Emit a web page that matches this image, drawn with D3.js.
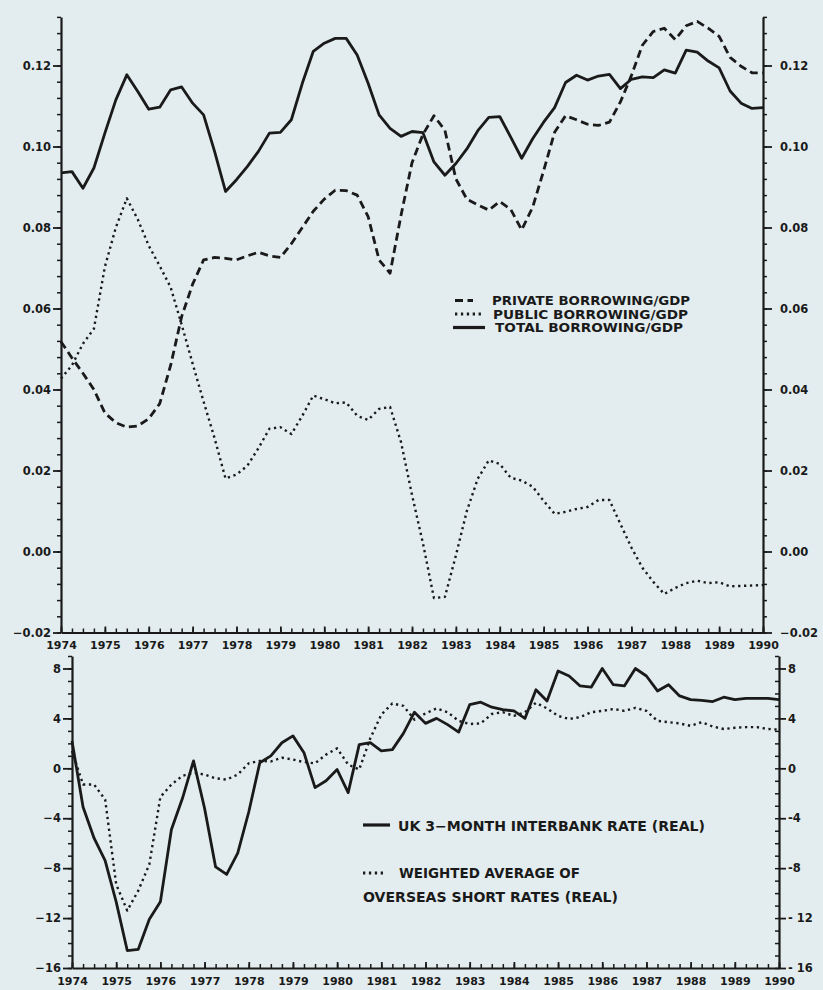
<!DOCTYPE html>
<html>
<head>
<meta charset="utf-8">
<script src="https://cdn.jsdelivr.net/npm/d3@7/dist/d3.min.js"></script>
<style>
  body { margin: 0; background: #e3edef; }
  svg { display: block; }
</style>
</head>
<body>
<svg id="chart"></svg>
<script>
// quarterly observations, 1974Q1 .. 1990Q1
const quarters = d3.range(65).map((i) => 1974 + i / 4);
const yearTicks = d3.range(1974, 1991);

// top panel: borrowing / GDP
const privateBorrowing = [
  0.0518, 0.0478, 0.0440, 0.0400, 0.0342, 0.0318, 0.0307, 0.0310, 0.0328, 0.0365,
  0.0460, 0.0580, 0.0660, 0.0720, 0.0726, 0.0724, 0.0720, 0.0730, 0.0739, 0.0730,
  0.0726, 0.0760, 0.0800, 0.0840, 0.0870, 0.0892, 0.0891, 0.0880, 0.0827, 0.0720,
  0.0687, 0.0830, 0.0960, 0.1030, 0.1076, 0.1040, 0.0920, 0.0870, 0.0856, 0.0843,
  0.0864, 0.0845, 0.0794, 0.0850, 0.0940, 0.1035, 0.1076, 0.1066, 0.1055, 0.1052,
  0.1060, 0.1110, 0.1175, 0.1250, 0.1284, 0.1292, 0.1264, 0.1298, 0.1309, 0.1292,
  0.1272, 0.1220, 0.1198, 0.1182, 0.1182,
];
const publicBorrowing = [
  0.0427, 0.0460, 0.0513, 0.0550, 0.0703, 0.0800, 0.0872, 0.0820, 0.0755, 0.0705,
  0.0652, 0.0560, 0.0464, 0.0370, 0.0280, 0.0180, 0.0190, 0.0212, 0.0255, 0.0303,
  0.0307, 0.0290, 0.0335, 0.0385, 0.0376, 0.0366, 0.0368, 0.0335, 0.0325, 0.0352,
  0.0357, 0.0270, 0.0140, 0.0020, -0.0115, -0.0112, -0.0010, 0.0100, 0.0180, 0.0225,
  0.0216, 0.0182, 0.0175, 0.0160, 0.0125, 0.0093, 0.0098, 0.0105, 0.0110, 0.0127,
  0.0127, 0.0068, 0.0010, -0.0040, -0.0075, -0.0105, -0.0090, -0.0078, -0.0072, -0.0078,
  -0.0076, -0.0086, -0.0085, -0.0084, -0.0083,
];
const totalBorrowing = [
  0.0935, 0.0938, 0.0897, 0.0947, 0.1033, 0.1115, 0.1177, 0.1136, 0.1092, 0.1097,
  0.1140, 0.1147, 0.1107, 0.1078, 0.0988, 0.0889, 0.0918, 0.0951, 0.0988, 0.1033,
  0.1035, 0.1066, 0.1156, 0.1235, 0.1255, 0.1267, 0.1267, 0.1226, 0.1156, 0.1078,
  0.1045, 0.1025, 0.1037, 0.1034, 0.0962, 0.0929, 0.0958, 0.0994, 0.1039, 0.1072,
  0.1074, 0.1023, 0.0971, 0.1019, 0.1060, 0.1096, 0.1158, 0.1176, 0.1164, 0.1174,
  0.1178, 0.1143, 0.1166, 0.1172, 0.1170, 0.1189, 0.1181, 0.1238, 0.1233, 0.1211,
  0.1194, 0.1137, 0.1107, 0.1094, 0.1096,
];
const topTicks = [-0.02, 0.0, 0.02, 0.04, 0.06, 0.08, 0.1, 0.12];

// bottom panel: real short rates, %
const ukRate = [
  2.2, -3.1, -5.6, -7.4, -10.7, -14.6, -14.5, -12.1, -10.7, -4.9,
  -2.4, 0.6, -3.2, -7.9, -8.5, -6.8, -3.5, 0.45, 1.0, 2.05,
  2.6, 1.25, -1.55, -1.0, -0.1, -1.95, 1.9, 2.05, 1.4, 1.5,
  2.8, 4.5, 3.6, 4.0, 3.5, 2.9, 5.1, 5.3, 4.9, 4.7,
  4.6, 4.0, 6.3, 5.4, 7.8, 7.4, 6.6, 6.5, 8.0, 6.7,
  6.6, 8.0, 7.4, 6.2, 6.7, 5.8, 5.5, 5.45, 5.35, 5.7,
  5.5, 5.6, 5.6, 5.6, 5.5,
];
const overseasRate = [
  1.4, -1.3, -1.3, -2.5, -9.3, -11.4, -9.8, -7.7, -2.3, -1.3,
  -0.6, -0.35, -0.5, -0.8, -0.9, -0.5, 0.4, 0.6, 0.55, 0.85,
  0.7, 0.5, 0.4, 1.1, 1.6, 0.3, -0.1, 2.4, 4.3, 5.2,
  5.0, 3.9, 4.4, 4.8, 4.5, 3.8, 3.55, 3.6, 4.35, 4.5,
  4.2, 4.5, 5.25, 4.8, 4.2, 3.95, 4.1, 4.5, 4.6, 4.75,
  4.6, 4.85, 4.6, 3.8, 3.7, 3.6, 3.4, 3.7, 3.35, 3.15,
  3.25, 3.3, 3.3, 3.15, 3.1,
];
const bottomTicks = [-16, -12, -8, -4, 0, 4, 8];

const W = 823, H = 990;
const ink = "#1a1a1a", paper = "#e3edef";
const FONT = "DejaVu Sans";

const svg = d3.select("#chart").attr("width", W).attr("height", H);
svg.append("rect").attr("width", W).attr("height", H).attr("fill", paper);

const styles = {
  solid: { width: 2.8, dash: null },
  dashed: { width: 2.8, dash: "8,4.5" },
  dotted: { width: 2.4, dash: "2.3,3.6" },
};

//style a d3 axis group like the plotter output
const styleAxis = (g, size) => {
  g.attr("font-family", FONT);
  g.select(".domain").attr("stroke", ink).attr("stroke-width", 2.2);
  g.selectAll(".tick line").attr("stroke", ink).attr("stroke-width", 1.8);
  g.selectAll(".tick text")
    .attr("fill", ink)
    .attr("font-size", size)
    .attr("font-weight", "bold");
};
const minorAxis = (g) => {
  g.select(".domain").remove();
  g.selectAll(".tick line").attr("stroke", ink).attr("stroke-width", 1.5);
};

const drawLine = (values, x, y, style) =>
  svg
    .append("path")
    .datum(values)
    .attr("fill", "none")
    .attr("stroke", ink)
    .attr("stroke-width", styles[style].width)
    .attr("stroke-dasharray", styles[style].dash)
    .attr("stroke-linejoin", "round")
    .attr("d", d3.line().x((d, i) => x(quarters[i])).y((d) => y(d)));

const legendText = (label, tx, ty, len, size) =>
  svg
    .append("text")
    .attr("x", tx).attr("y", ty)
    .attr("textLength", len)
    .attr("lengthAdjust", "spacingAndGlyphs")
    .attr("font-family", FONT)
    .attr("font-weight", "bold")
    .attr("font-size", size)
    .attr("fill", ink)
    .text(label);
const legendRow = (x1, x2, y, style, label, tx, ty, len, size) => {
  svg
    .append("line")
    .attr("x1", x1).attr("x2", x2).attr("y1", y).attr("y2", y)
    .attr("stroke", ink)
    .attr("stroke-width", styles[style].width + 0.4)
    .attr("stroke-dasharray", styles[style].dash);
  legendText(label, tx, ty, len, size);
};

// ---------------- TOP PANEL ----------------
const xTop = d3.scaleLinear().domain([1974, 1990]).range([61, 763]);
const yTop = d3.scaleLinear().domain([-0.02, 0.132]).range([632.5, 16.9]);
const topMinor = d3.range(-0.02, 0.1321, 0.004);

svg.append("g")
  .attr("transform", "translate(61,0)")
  .call(d3.axisLeft(yTop).tickValues(topMinor).tickFormat("").tickSize(4))
  .call(minorAxis);
svg.append("g")
  .attr("transform", "translate(763,0)")
  .call(d3.axisRight(yTop).tickValues(topMinor).tickFormat("").tickSize(4))
  .call(minorAxis);
svg.append("g")
  .attr("transform", "translate(61,0)")
  .call(d3.axisLeft(yTop).tickValues(topTicks).tickFormat(d3.format(".2f"))
    .tickSizeInner(8).tickSizeOuter(0).tickPadding(2))
  .call((g) => styleAxis(g, 11.5));
svg.append("g")
  .attr("transform", "translate(763,0)")
  .call(d3.axisRight(yTop).tickValues(topTicks).tickFormat(d3.format(".2f"))
    .tickSizeInner(9).tickSizeOuter(0).tickPadding(8))
  .call((g) => styleAxis(g, 11.5));

svg.append("g")
  .attr("transform", "translate(0," + yTop(-0.02) + ")")
  .call(d3.axisBottom(xTop).tickValues(quarters).tickFormat("").tickSize(-4))
  .call(minorAxis);
svg.append("g")
  .attr("transform", "translate(0," + yTop(-0.02) + ")")
  .call(d3.axisBottom(xTop).tickValues(yearTicks).tickFormat(d3.format("d"))
    .tickSizeInner(-6).tickSizeOuter(0).tickPadding(9))
  .call((g) => styleAxis(g, 11));

drawLine(publicBorrowing, xTop, yTop, "dotted");
drawLine(privateBorrowing, xTop, yTop, "dashed");
drawLine(totalBorrowing, xTop, yTop, "solid");

legendRow(455, 473, 300.5, "dashed", "PRIVATE BORROWING/GDP", 492, 305, 198, 13);
legendRow(455, 484, 314, "dotted", "PUBLIC BORROWING/GDP", 493, 318.5, 195, 13);
legendRow(453, 485, 327.5, "solid", "TOTAL BORROWING/GDP", 495, 332, 188, 13);

// ---------------- BOTTOM PANEL ----------------
const xBot = d3.scaleLinear().domain([1974, 1990]).range([72, 779]);
const yBot = d3.scaleLinear().domain([-16, 9]).range([968, 656]);
const botMinor = d3.range(-16, 9.01, 1);
const rightFmt = (d) => (d < 0 ? (d <= -10 ? "- " : "-") + -d : "" + d);
const leftFmt = (d) => (d < 0 ? "\u2212" + -d : "" + d);

svg.append("g")
  .attr("transform", "translate(72,0)")
  .call(d3.axisLeft(yBot).tickValues(botMinor).tickFormat("").tickSize(4))
  .call(minorAxis);
svg.append("g")
  .attr("transform", "translate(779,0)")
  .call(d3.axisLeft(yBot).tickValues(botMinor).tickFormat("").tickSize(4))
  .call(minorAxis);
svg.append("g")
  .attr("transform", "translate(72,0)")
  .call(d3.axisLeft(yBot).tickValues(bottomTicks).tickFormat(leftFmt)
    .tickSizeInner(9).tickSizeOuter(0).tickPadding(2))
  .call((g) => styleAxis(g, 11.5));
svg.append("g")
  .attr("transform", "translate(779,0)")
  .call(d3.axisRight(yBot).tickValues(bottomTicks).tickFormat(rightFmt)
    .tickSizeInner(7).tickSizeOuter(0).tickPadding(2))
  .call((g) => styleAxis(g, 11.5));

svg.append("g")
  .attr("transform", "translate(0," + yBot(-16) + ")")
  .call(d3.axisBottom(xBot).tickValues(quarters).tickFormat("").tickSize(-4))
  .call(minorAxis);
svg.append("g")
  .attr("transform", "translate(0," + yBot(-16) + ")")
  .call(d3.axisBottom(xBot).tickValues(yearTicks).tickFormat(d3.format("d"))
    .tickSizeInner(-6).tickSizeOuter(0).tickPadding(9))
  .call((g) => styleAxis(g, 11));

drawLine(overseasRate, xBot, yBot, "dotted");
drawLine(ukRate, xBot, yBot, "solid");

legendRow(363, 390, 825, "solid", "UK 3\u2212MONTH INTERBANK RATE (REAL)", 398, 830.5, 307, 14);
legendRow(363, 384, 873, "dotted", "WEIGHTED AVERAGE OF", 399, 877.5, 181, 14);
legendText("OVERSEAS SHORT RATES (REAL)", 363, 902, 255, 14);
</script>
</body>
</html>
